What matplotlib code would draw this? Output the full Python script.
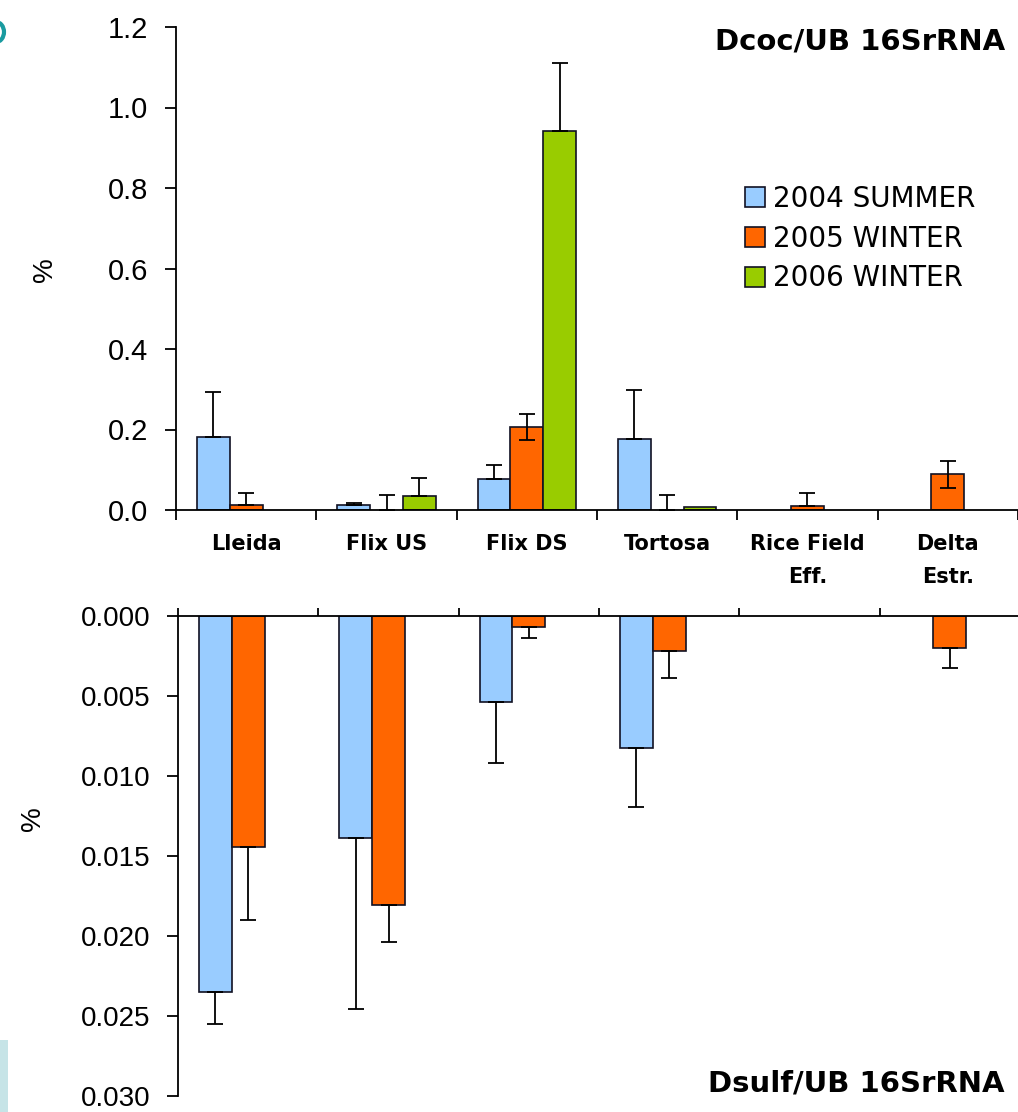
import numpy as np
import matplotlib
matplotlib.use('Agg')
import matplotlib.pyplot as plt
from matplotlib.patches import Rectangle, Ellipse

sites = ['Lleida', 'Flix US', 'Flix DS', 'Tortosa', 'Rice Field\nEff.', 'Delta\nEstr.']
seasons = ['2004 SUMMER', '2005 WINTER', '2006 WINTER']
colors = ['#99CCFF', '#FF6600', '#99CC00']

# Dcoc/UB 16SrRNA (%)
dcoc_2004 = [0.181, 0.012, 0.076, 0.176, 0.0, 0.0]
dcoc_2004_err = [0.112, 0.005, 0.037, 0.122, 0.0, 0.0]
dcoc_2005 = [0.012, 0.0, 0.207, 0.0, 0.009, 0.089]
dcoc_2005_err = [0.029, 0.037, 0.031, 0.037, 0.032, 0.033]
dcoc_2005_err_low = [0.0, 0.0, 0.033, 0.0, 0.0, 0.034]
dcoc_2006 = [0.0, 0.035, 0.942, 0.008, 0.0, 0.0]
dcoc_2006_err = [0.0, 0.045, 0.168, 0.0, 0.0, 0.0]

# Dsulf/UB 16SrRNA (%) - plotted downwards
dsulf_2004 = [0.02353, 0.01388, 0.00535, 0.00824, 0.0, 0.0]
dsulf_2004_err = [0.00196, 0.0107, 0.00384, 0.00368, 0.0, 0.0]
dsulf_2005 = [0.01442, 0.01807, 0.00066, 0.00219, 0.0, 0.0020]
dsulf_2005_err = [0.0046, 0.0023, 0.00072, 0.00169, 0.0, 0.00126]

W, H = 1018, 1112
fig = plt.figure(figsize=(W / 100, H / 100), dpi=100)
fig.patch.set_facecolor('white')

tick_font = 'Liberation Sans'
x = np.arange(len(sites))
w = 0.233
bar_kw = dict(edgecolor='#111122', linewidth=1.2)
err_kw = dict(fmt='none', ecolor='black', elinewidth=1.3, capsize=6, capthick=1.3)


def draw_series(ax, pos, vals, err_hi, err_lo, color, label):
    vals = np.array(vals)
    err_hi = np.array(err_hi)
    err_lo = np.array(err_lo)
    m = vals > 0
    ax.bar(pos[m], vals[m], w, color=color, label=label, **bar_kw)
    e = err_hi > 0
    ax.errorbar(pos[e], vals[e], yerr=[err_lo[e], err_hi[e]], **err_kw)


# ---- top panel
ax1 = fig.add_axes([176 / W, 1 - 510 / H, 842 / W, 483 / H])
draw_series(ax1, x - w, dcoc_2004, dcoc_2004_err, np.zeros(6), colors[0], seasons[0])
draw_series(ax1, x, dcoc_2005, dcoc_2005_err, dcoc_2005_err_low, colors[1], seasons[1])
draw_series(ax1, x + w, dcoc_2006, dcoc_2006_err, np.zeros(6), colors[2], seasons[2])
ax1.set_xlim(-0.5, 5.5)
ax1.set_ylim(0, 1.2)
ax1.set_yticks(np.arange(0, 1.21, 0.2))
ax1.set_yticklabels(['%.1f' % v for v in np.arange(0, 1.21, 0.2)])
ax1.set_xticks(np.arange(-0.5, 5.6, 1))
ax1.set_xticklabels([])
ax1.spines['top'].set_visible(False)
ax1.spines['right'].set_visible(False)
ax1.tick_params(axis='y', direction='out', length=8, width=1.3, pad=12, labelsize=21)
ax1.tick_params(axis='x', direction='out', length=7, width=1.3)
for lab in ax1.get_yticklabels():
    lab.set_family(tick_font)
for s in ['left', 'bottom']:
    ax1.spines[s].set_linewidth(1.3)

for i, name in enumerate(sites):
    ax1.text(i, -0.06, name, ha='center', va='top', fontsize=15, fontweight='bold',
             linespacing=1.8)

ax1.legend(loc='upper left', bbox_to_anchor=(745 / W, 1 - 185 / H), bbox_transform=fig.transFigure,
           frameon=False, fontsize=20, handlelength=0.72, handleheight=0.72,
           handletextpad=0.3, labelspacing=0.42, borderpad=0, borderaxespad=0)

# ---- bottom panel
ax2 = fig.add_axes([178 / W, 1 - 1096 / H, 842 / W, 480 / H])
zero_err = np.zeros(6)
draw_series(ax2, x - w, dsulf_2004, dsulf_2004_err, zero_err, colors[0], seasons[0])
draw_series(ax2, x, dsulf_2005, dsulf_2005_err, zero_err, colors[1], seasons[1])
ax2.set_xlim(-0.5, 5.5)
ax2.set_ylim(0.030, 0)
ax2.set_yticks(np.arange(0, 0.0301, 0.005))
ax2.set_yticklabels(['%.3f' % v for v in np.arange(0, 0.0301, 0.005)])
ax2.xaxis.tick_top()
ax2.set_xticks(np.arange(-0.5, 5.6, 1))
ax2.set_xticklabels([])
ax2.spines['bottom'].set_visible(False)
ax2.spines['right'].set_visible(False)
ax2.tick_params(axis='y', direction='out', length=8, width=1.3, pad=12, labelsize=20)
ax2.tick_params(axis='x', direction='out', length=6, width=1.3)
for lab in ax2.get_yticklabels():
    lab.set_family(tick_font)
for s in ['left', 'top']:
    ax2.spines[s].set_linewidth(1.3)

# titles and axis labels
fig.text(1005 / W, 1 - 42 / H, 'Dcoc/UB 16SrRNA', ha='right', va='center', fontsize=21, fontweight='bold')
fig.text(1005 / W, 1 - 1084 / H, 'Dsulf/UB 16SrRNA', ha='right', va='center', fontsize=21, fontweight='bold')
fig.text(45 / W, 1 - 270 / H, '%', rotation=90, ha='center', va='center', fontsize=20, family=tick_font)
fig.text(33 / W, 1 - 819 / H, '%', rotation=90, ha='center', va='center', fontsize=20, family=tick_font)

# slide decorations at the left edge
fig.patches.append(Rectangle((0, 0), 8 / W, 72 / H, transform=fig.transFigure,
                             facecolor='#c6e4e7', edgecolor='none'))
fig.patches.append(Ellipse((-4 / W, 1 - 32 / H), 16 / W, 20 / H, transform=fig.transFigure,
                           facecolor='none', edgecolor='#1a9ba0', linewidth=3))

fig.savefig('out.png', dpi=100)
